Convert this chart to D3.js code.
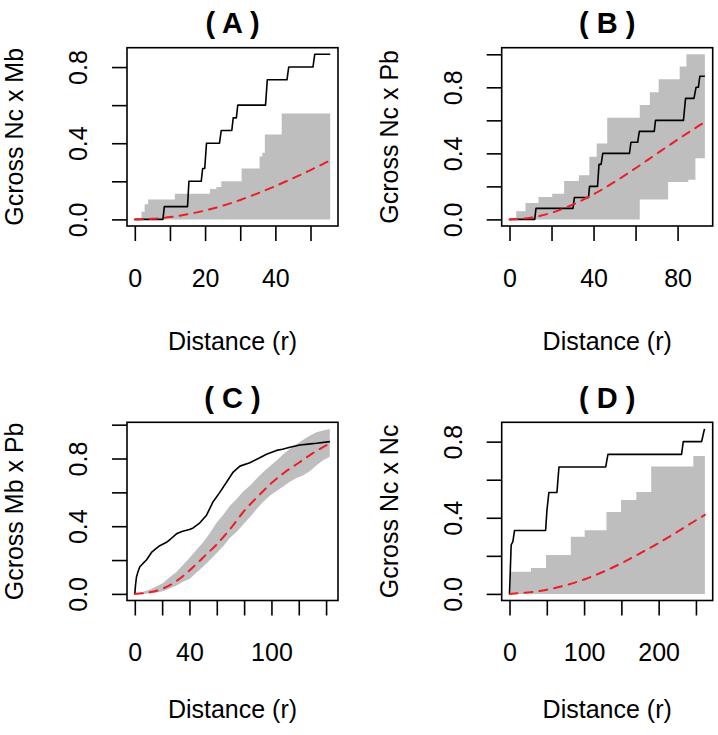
<!DOCTYPE html>
<html><head><meta charset="utf-8">
<script src="https://cdn.jsdelivr.net/npm/d3@7/dist/d3.min.js"></script>
<style>html,body{margin:0;padding:0;background:#fff;} svg{display:block;}</style>
</head><body><svg id="c" width="718" height="735"></svg>
<script>
// ---------- text ----------
const titles = ["( A )", "( B )", "( C )", "( D )"];
const yLabels = ["Gcross Nc x Mb", "Gcross Nc x Pb", "Gcross Mb x Pb", "Gcross Nc x Nc"];
const xLabel = "Distance (r)";

// ---------- panel A : Nc x Mb ----------
const obsA_r = [0, 8.0, 8.4, 15.0, 15.4, 18.9, 19.3, 19.9, 20.4, 24.1, 24.6, 27.6, 28.0, 28.9, 29.3, 37.2, 37.7, 43.3, 43.8, 50.7, 51.2, 55.6];
const obsA_g = [0, 0, 0.067, 0.067, 0.2, 0.2, 0.267, 0.267, 0.4, 0.4, 0.467, 0.467, 0.533, 0.533, 0.6, 0.6, 0.733, 0.733, 0.8, 0.8, 0.867, 0.867];
const envA_r  = [0, 1.9, 2.8, 3.8, 11.4, 21.4, 23.2, 24.6, 30.4, 35.5, 36.3, 37.0, 41.8, 55.6];
const envA_lo = [0, 0, 0, 0, 0, 0, 0, 0, 0, 0, 0, 0, 0, 0];
const envA_hi = [0, 0.04, 0.08, 0.105, 0.135, 0.16, 0.17, 0.2, 0.267, 0.33, 0.35, 0.446, 0.556, 0.556];
const theoA_r = [0, 5, 10, 15, 20, 25, 30, 35, 40, 45, 50, 55.6];
const theoA_g = [0, 0.003, 0.012, 0.027, 0.047, 0.072, 0.102, 0.137, 0.175, 0.216, 0.259, 0.31];
const xTicksA = [0, 10, 20, 30, 40, 50];
const xLabsA  = [0, 20, 40];
const yTicksA = [0, 0.2, 0.4, 0.6, 0.8];
const yLabsA  = [0, 0.4, 0.8];

// ---------- panel B : Nc x Pb ----------
const obsB_r = [0, 12.0, 12.6, 30.2, 30.9, 37.6, 38.1, 41.9, 42.6, 43.6, 44.4, 57.1, 57.8, 61.0, 61.8, 68.9, 69.5, 82.8, 83.8, 87.8, 88.8, 89.9, 90.6, 93];
const obsB_g = [0, 0, 0.067, 0.067, 0.133, 0.133, 0.2, 0.2, 0.333, 0.333, 0.4, 0.4, 0.467, 0.467, 0.533, 0.533, 0.6, 0.6, 0.733, 0.733, 0.8, 0.8, 0.867, 0.867];
const envB_r  = [0, 3.2, 7.6, 13.8, 20.3, 26.0, 33.0, 38.0, 41.5, 46.5, 62.0, 66.8, 71.0, 75.5, 81.0, 84.2, 85.1, 88.5, 93];
const envB_lo = [0, 0, 0, 0, 0, 0, 0, 0, 0, 0, 0.12, 0.12, 0.12, 0.227, 0.227, 0.227, 0.24, 0.37, 0.37];
const envB_hi = [0, 0.05, 0.1, 0.136, 0.156, 0.233, 0.267, 0.38, 0.46, 0.615, 0.693, 0.77, 0.849, 0.849, 0.926, 1.0, 1.0, 1.0, 1.0];
const theoB_r = [0, 10, 20, 30, 40, 50, 60, 70, 80, 90, 93];
const theoB_g = [0, 0.010, 0.040, 0.089, 0.152, 0.227, 0.310, 0.397, 0.483, 0.566, 0.59];
const xTicksB = [0, 20, 40, 60, 80];
const xLabsB  = [0, 40, 80];
const yTicksB = [0, 0.2, 0.4, 0.6, 0.8, 1.0];
const yLabsB  = [0, 0.4, 0.8];

// ---------- panel C : Mb x Pb ----------
const obsC_r = [0, 0.5, 1.2, 2.5, 3.7, 6, 8.5, 12.2, 15.9, 18.3, 23.2, 25.6, 30.5, 35, 40, 42.7, 47.6, 52.5, 57.3, 62.2, 67.1, 72, 76.9, 84.2, 91.5, 96.4, 103.7, 108, 113.5, 120.8, 127, 133, 142.8];
const obsC_g = [0, 0.05, 0.1, 0.135, 0.16, 0.18, 0.2, 0.245, 0.27, 0.285, 0.305, 0.32, 0.355, 0.37, 0.38, 0.39, 0.42, 0.465, 0.545, 0.6, 0.66, 0.72, 0.755, 0.775, 0.805, 0.825, 0.848, 0.855, 0.866, 0.88, 0.885, 0.89, 0.9];
const envC_r  = [0, 5, 11, 16, 20.7, 25, 30.5, 35, 40.3, 45, 50, 55, 59.8, 65, 69.5, 75, 79.3, 85, 89, 94, 98.8, 104, 108.6, 113, 118.3, 123, 128, 133, 137.8, 142.7];
const envC_lo = [0, 0, 0.002, 0.008, 0.015, 0.03, 0.05, 0.07, 0.09, 0.125, 0.16, 0.2, 0.24, 0.285, 0.33, 0.37, 0.41, 0.46, 0.5, 0.545, 0.58, 0.61, 0.635, 0.66, 0.685, 0.7, 0.725, 0.76, 0.79, 0.81];
const envC_hi = [0, 0.01, 0.026, 0.045, 0.065, 0.095, 0.13, 0.17, 0.215, 0.26, 0.305, 0.36, 0.42, 0.47, 0.52, 0.565, 0.605, 0.645, 0.68, 0.72, 0.755, 0.79, 0.825, 0.855, 0.885, 0.91, 0.935, 0.955, 0.965, 0.975];
const theoC_r = [0, 10, 20, 30, 40, 50, 60, 70, 80, 90, 100, 110, 120, 130, 143];
const theoC_g = [0, 0.008, 0.03, 0.073, 0.138, 0.215, 0.293, 0.386, 0.49, 0.575, 0.655, 0.72, 0.775, 0.83, 0.89];
const xTicksC = [0, 20, 40, 60, 80, 100, 120, 140];
const xLabsC  = [0, 40, 100];
const yTicksC = [0, 0.2, 0.4, 0.6, 0.8, 1.0];
const yLabsC  = [0, 0.4, 0.8];

// ---------- panel D : Nc x Nc ----------
const obsD_r = [0, 2.2, 4.5, 6.7, 48.4, 50.2, 52.8, 63.6, 66.3, 129, 132, 230.7, 233, 257.6, 261.5];
const obsD_g = [0, 0.257, 0.275, 0.333, 0.333, 0.44, 0.533, 0.533, 0.667, 0.667, 0.733, 0.733, 0.8, 0.8, 0.867];
const envD_r  = [0, 1.5, 28.7, 48.9, 82.2, 100.8, 130, 149.5, 170, 190, 246.5, 262];
const envD_lo = [0, 0, 0, 0, 0, 0, 0, 0, 0, 0, 0, 0];
const envD_hi = [0, 0.117, 0.136, 0.204, 0.3, 0.335, 0.43, 0.493, 0.536, 0.67, 0.724, 0.724];
const theoD_r = [0, 25, 50, 75, 100, 125, 150, 175, 200, 225, 250, 262];
const theoD_g = [0, 0.008, 0.022, 0.045, 0.076, 0.115, 0.161, 0.213, 0.267, 0.326, 0.387, 0.415];
const xTicksD = [0, 50, 100, 150, 200, 250];
const xLabsD  = [0, 100, 200];
const yTicksD = [0, 0.2, 0.4, 0.6, 0.8];
const yLabsD  = [0, 0.4, 0.8];

// ---------- drawing ----------
const FONT = "'Liberation Sans', Arial, Helvetica, sans-serif";
const svg = d3.select("#c");
svg.append("rect").attr("width", 718).attr("height", 735).attr("fill", "#fff");

const panels = [
  {title: titles[0], ylab: yLabels[0], obsR: obsA_r, obsG: obsA_g, envR: envA_r, envLo: envA_lo, envHi: envA_hi, step: true,  theoR: theoA_r, theoG: theoA_g, xt: xTicksA, xl: xLabsA, yt: yTicksA, yl: yLabsA},
  {title: titles[1], ylab: yLabels[1], obsR: obsB_r, obsG: obsB_g, envR: envB_r, envLo: envB_lo, envHi: envB_hi, step: true,  theoR: theoB_r, theoG: theoB_g, xt: xTicksB, xl: xLabsB, yt: yTicksB, yl: yLabsB},
  {title: titles[2], ylab: yLabels[2], obsR: obsC_r, obsG: obsC_g, envR: envC_r, envLo: envC_lo, envHi: envC_hi, step: false, theoR: theoC_r, theoG: theoC_g, xt: xTicksC, xl: xLabsC, yt: yTicksC, yl: yLabsC},
  {title: titles[3], ylab: yLabels[3], obsR: obsD_r, obsG: obsD_g, envR: envD_r, envLo: envD_lo, envHi: envD_hi, step: true,  theoR: theoD_r, theoG: theoD_g, xt: xTicksD, xl: xLabsD, yt: yTicksD, yl: yLabsD}
];
const boxes = [
  {x0: 127,   x1: 338,   y0: 47.7,  y1: 226,   labOff: 124},
  {x0: 501.7, x1: 712.7, y0: 47.7,  y1: 226,   labOff: 124},
  {x0: 127,   x1: 338,   y0: 422.3, y1: 600.5, labOff: 117},
  {x0: 501.7, x1: 712.7, y0: 422.3, y1: 600.5, labOff: 117}
];

const LW = 1.6;
panels.forEach((p, i) => {
  const b = boxes[i];
  const xmax = d3.max(p.obsR.concat(p.theoR, p.envR));
  const ymax = d3.max(p.obsG.concat(p.theoG, p.envHi));
  const x = d3.scaleLinear().domain([-0.04 * xmax, xmax * 1.04]).range([b.x0, b.x1]);
  const y = d3.scaleLinear().domain([-0.04 * ymax, ymax * 1.04]).range([b.y1, b.y0]);
  const g = svg.append("g");

  // envelope
  const env = p.envR.map((r, k) => ({r: r, lo: p.envLo[k], hi: p.envHi[k]}));
  g.append("path").datum(env)
    .attr("d", d3.area().x(d => x(d.r)).y0(d => y(d.lo)).y1(d => y(d.hi))
      .curve(p.step ? d3.curveStepAfter : d3.curveLinear))
    .attr("fill", "#bebebe");

  // observed
  const obs = p.obsR.map((r, k) => ({r: r, g: p.obsG[k]}));
  g.append("path").datum(obs)
    .attr("d", d3.line().x(d => x(d.r)).y(d => y(d.g)))
    .attr("fill", "none").attr("stroke", "#000").attr("stroke-width", LW)
    .attr("stroke-linejoin", "round");

  // theoretical
  const theo = p.theoR.map((r, k) => ({r: r, g: p.theoG[k]}));
  g.append("path").datum(theo)
    .attr("d", d3.line().x(d => x(d.r)).y(d => y(d.g)).curve(d3.curveMonotoneX))
    .attr("fill", "none").attr("stroke", "#ee1c25").attr("stroke-width", 2)
    .attr("stroke-dasharray", "8,7").attr("stroke-linecap", "round");

  // box
  g.append("rect").attr("x", b.x0).attr("y", b.y0)
    .attr("width", b.x1 - b.x0).attr("height", b.y1 - b.y0)
    .attr("fill", "none").attr("stroke", "#000").attr("stroke-width", LW);

  // x axis
  const gx = g.append("g").attr("transform", `translate(0,${b.y1})`)
    .call(d3.axisBottom(x).tickValues(p.xt).tickSize(15)
      .tickFormat(d => p.xl.includes(d) ? String(d) : ""));
  gx.select(".domain").remove();
  gx.selectAll("line").attr("stroke-width", LW);
  gx.selectAll("text").attr("y", 60.7).attr("dy", null)
    .attr("font-size", 25).attr("font-family", FONT).attr("fill", "#000");

  // y axis
  const gy = g.append("g").attr("transform", `translate(${b.x0},0)`)
    .call(d3.axisLeft(y).tickValues(p.yt).tickSize(15)
      .tickFormat(d => p.yl.includes(d) ? d3.format(".1f")(d) : ""));
  gy.select(".domain").remove();
  gy.selectAll("line").attr("stroke-width", LW);
  gy.selectAll("text").attr("x", null).attr("dy", null)
    .attr("text-anchor", "middle")
    .attr("transform", "translate(-39.7,0) rotate(-90)")
    .attr("font-size", 25).attr("font-family", FONT).attr("fill", "#000");

  // title
  g.append("text").attr("x", (b.x0 + b.x1) / 2).attr("y", b.y0 - 14.7)
    .attr("text-anchor", "middle").attr("font-family", FONT)
    .attr("font-weight", "bold").attr("font-size", 29).text(p.title);

  // x label
  g.append("text").attr("x", (b.x0 + b.x1) / 2).attr("y", b.y1 + b.labOff)
    .attr("text-anchor", "middle").attr("font-family", FONT)
    .attr("font-size", 25).text(xLabel);

  // y label
  g.append("text")
    .attr("transform", `translate(${b.x0 - 104},${(b.y0 + b.y1) / 2}) rotate(-90)`)
    .attr("text-anchor", "middle").attr("font-family", FONT)
    .attr("font-size", 25).text(p.ylab);
});
</script>
</body></html>
